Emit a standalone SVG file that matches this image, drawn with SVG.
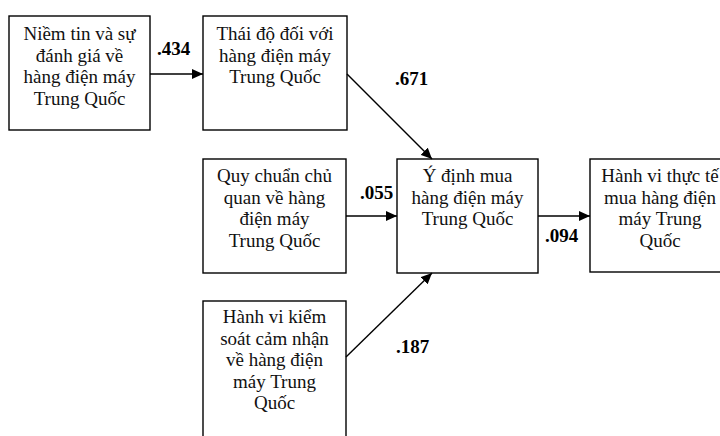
<svg xmlns="http://www.w3.org/2000/svg" width="720" height="436" viewBox="0 0 720 436">
  <style>
    .box { fill: #ffffff; stroke: #000000; stroke-width: 1.4; }
    .txt { font-family: "Liberation Serif", "Times New Roman", serif; font-size: 19px; fill: #111111; text-anchor: middle; }
    .lbl { font-family: "Liberation Serif", "Times New Roman", serif; font-size: 19px; font-weight: bold; fill: #000000; }
    .edge { stroke: #000000; stroke-width: 1.4; fill: none; marker-end: url(#arrow); }
  </style>
  <defs>
    <marker id="arrow" markerUnits="userSpaceOnUse" markerWidth="11" markerHeight="10" refX="11" refY="5" orient="auto">
      <path d="M0,0 L11,5 L0,10 Z" fill="#000000"/>
    </marker>
  </defs>
  <rect width="720" height="436" fill="#ffffff"/>

  <g id="niem-tin">
    <rect class="box" x="9" y="16" width="141" height="114"/>
    <text class="txt" x="79.5" y="40">Niềm tin và sự</text>
    <text class="txt" x="79.5" y="61.5">đánh giá về</text>
    <text class="txt" x="79.5" y="83">hàng điện máy</text>
    <text class="txt" x="79.5" y="104.5">Trung Quốc</text>
  </g>

  <g id="thai-do">
    <rect class="box" x="203" y="16" width="144" height="114"/>
    <text class="txt" x="275" y="40">Thái độ đối với</text>
    <text class="txt" x="275" y="61.5">hàng điện máy</text>
    <text class="txt" x="275" y="83">Trung Quốc</text>
  </g>

  <g id="quy-chuan">
    <rect class="box" x="203" y="159" width="143" height="114"/>
    <text class="txt" x="274.5" y="182">Quy chuẩn chủ</text>
    <text class="txt" x="274.5" y="203.5">quan về hàng</text>
    <text class="txt" x="274.5" y="225">điện máy</text>
    <text class="txt" x="274.5" y="246.5">Trung Quốc</text>
  </g>

  <g id="y-dinh">
    <rect class="box" x="397" y="159" width="141" height="114"/>
    <text class="txt" x="467.5" y="182">Ý định mua</text>
    <text class="txt" x="467.5" y="203.5">hàng điện máy</text>
    <text class="txt" x="467.5" y="225">Trung Quốc</text>
  </g>

  <g id="hanh-vi-thuc-te">
    <rect class="box" x="590" y="159" width="140" height="113"/>
    <text class="txt" x="660" y="182">Hành vi thực tế</text>
    <text class="txt" x="660" y="203.5">mua hàng điện</text>
    <text class="txt" x="660" y="225">máy Trung</text>
    <text class="txt" x="660" y="246.5">Quốc</text>
  </g>

  <g id="kiem-soat">
    <rect class="box" x="203" y="301" width="143" height="150"/>
    <text class="txt" x="274.5" y="323">Hành vi kiểm</text>
    <text class="txt" x="274.5" y="344.5">soát cảm nhận</text>
    <text class="txt" x="274.5" y="366">về hàng điện</text>
    <text class="txt" x="274.5" y="387.5">máy Trung</text>
    <text class="txt" x="274.5" y="409">Quốc</text>
  </g>

  <g id="connectors">
    <line class="edge" x1="150" y1="74" x2="203" y2="74"/>
    <line class="edge" x1="347" y1="74" x2="432" y2="159"/>
    <line class="edge" x1="346" y1="216" x2="397" y2="216"/>
    <line class="edge" x1="346" y1="357" x2="432" y2="273"/>
    <line class="edge" x1="538" y1="216" x2="590" y2="216"/>
    <text class="lbl" x="157" y="55">.434</text>
    <text class="lbl" x="395" y="85">.671</text>
    <text class="lbl" x="360" y="199">.055</text>
    <text class="lbl" x="396" y="353">.187</text>
    <text class="lbl" x="545" y="242">.094</text>
  </g>
</svg>
